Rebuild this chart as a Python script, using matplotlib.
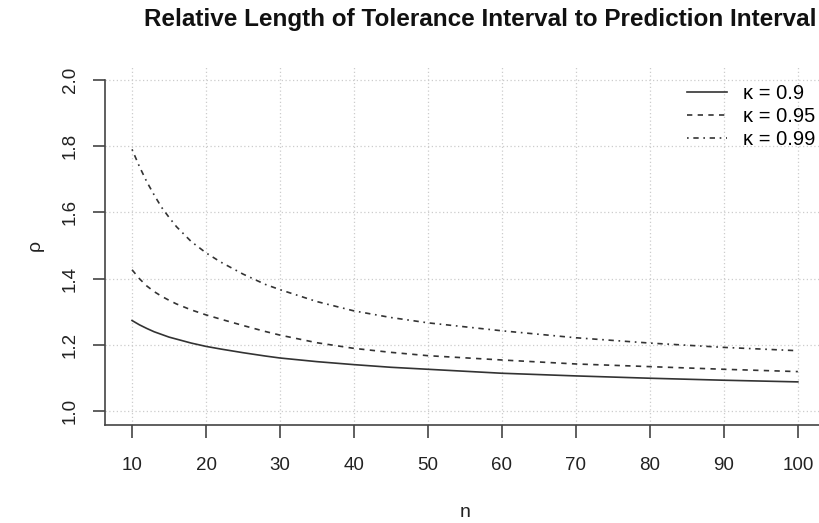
import matplotlib
matplotlib.use("Agg")
from matplotlib import pyplot as plt

plt.rcParams["font.family"] = ["Liberation Sans", "DejaVu Sans"]

# values
n = [10, 11, 12, 13, 14, 15, 16, 18, 20, 22, 25, 28, 30, 35, 40, 45, 50,
     60, 70, 80, 90, 100]
rho_090 = [1.274, 1.261, 1.250, 1.240, 1.232, 1.224, 1.218, 1.206, 1.196, 1.188,
           1.177, 1.167, 1.161, 1.150, 1.141, 1.133, 1.127, 1.115, 1.107, 1.100,
           1.094, 1.089]
rho_095 = [1.427, 1.400, 1.378, 1.361, 1.347, 1.335, 1.324, 1.306, 1.291, 1.278,
           1.259, 1.241, 1.230, 1.207, 1.190, 1.178, 1.168, 1.155, 1.143, 1.135,
           1.127, 1.120]
rho_099 = [1.790, 1.738, 1.692, 1.652, 1.615, 1.585, 1.557, 1.512, 1.478, 1.450,
           1.414, 1.383, 1.367, 1.331, 1.303, 1.283, 1.267, 1.243, 1.222, 1.206,
           1.193, 1.183]

labels = ["\u03ba = 0.9", "\u03ba = 0.95", "\u03ba = 0.99"]
xticks = [10, 20, 30, 40, 50, 60, 70, 80, 90, 100]
yticks = [1.0, 1.2, 1.4, 1.6, 1.8, 2.0]

fig = plt.figure(figsize=(8.19, 5.23), dpi=100)
ax = fig.add_axes([0.1287, 0.188, 0.878, 0.685])

col = "#333333"
ax.plot(n, rho_090, color=col, lw=1.2, linestyle="-", label=labels[0])
ax.plot(n, rho_095, color=col, lw=1.2, linestyle=(0, (3.2, 3.2)), label=labels[1])
ax.plot(n, rho_099, color=col, lw=1.2, linestyle=(0, (1, 2.8, 3.2, 2.8)), label=labels[2])

ax.set_xlim(6.4, 103.6)
ax.set_ylim(0.96, 2.04)
ax.set_xticks(xticks)
ax.set_xticklabels([str(t) for t in xticks])
ax.set_yticks(yticks)
ax.set_yticklabels(["%.1f" % t for t in yticks], rotation=90, va="center")
ax.grid(True, color="#cccccc", linestyle=(0, (1, 2)), lw=0.9)

for s in ["top", "right"]:
    ax.spines[s].set_visible(False)
ax.spines["left"].set_bounds(0.96, 2.0)
for s in ["left", "bottom"]:
    ax.spines[s].set_color("#444444")
    ax.spines[s].set_linewidth(1.2)
ax.tick_params(axis="both", length=9, width=1.2, color="#444444",
               labelsize=13.5, labelcolor="#222222")
ax.tick_params(axis="x", pad=14)
ax.tick_params(axis="y", pad=10)

ax.set_xlabel("n", fontsize=14, labelpad=22, color="#222222")
ax.set_ylabel("\u03c1", fontsize=14, labelpad=13, color="#222222")
fig.text(0.586, 0.962, "Relative Length of Tolerance Interval to Prediction Interval",
         ha="center", va="center", fontsize=17.5, fontweight="bold", color="#111111")

leg = ax.legend(loc="upper right", bbox_to_anchor=(1.0, 1 - 80 / 523),
                bbox_transform=fig.transFigure, frameon=False,
                fontsize=14.5, handlelength=2.0, handletextpad=0.75,
                labelspacing=0.2, borderaxespad=0.0, borderpad=0.2)

fig.savefig("out.png", dpi=100)
